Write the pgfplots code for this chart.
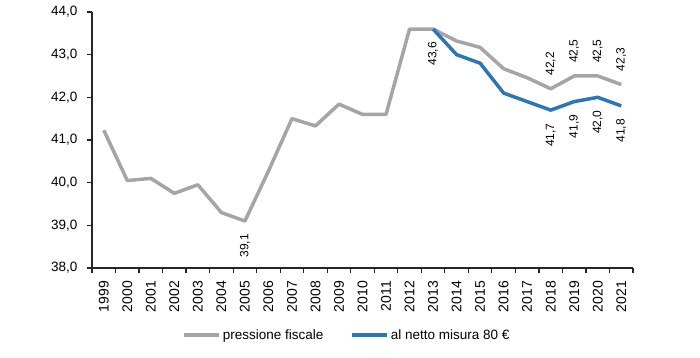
\documentclass[border=0pt]{standalone}
\usepackage{pgfplots}
\pgfplotsset{compat=1.18}
\usepackage{fontspec}
\setmainfont{Liberation Sans}
\definecolor{pgray}{RGB}{165,165,165}
\definecolor{pblue}{RGB}{46,117,182}
\begin{document}
\begin{tikzpicture}[x=1pt,y=1pt]
\useasboundingbox (0,0) rectangle (700,358);
\begin{axis}[
  at={(92pt,90pt)}, anchor=south west,
  scale only axis, width=541pt, height=256pt,
  xmin=-0.5, xmax=22.5, ymin=38, ymax=44,
  axis x line*=bottom, axis y line*=left,
  axis line style={line width=1.2pt, black!85},
  xtick={0,...,22},
  xticklabels={1999,2000,2001,2002,2003,2004,2005,2006,2007,2008,2009,2010,2011,2012,2013,2014,2015,2016,2017,2018,2019,2020,2021},
  major x tick style={draw=none},
  minor xtick={-0.5,0.5,...,22.5},
  minor x tick style={line width=1.2pt, black!85},
  minor tick length=5pt,
  ytick={38,39,...,44},
  major y tick style={line width=1.2pt, black!85},
  major tick length=5pt,
  tick align=outside,
  xticklabel style={rotate=90, anchor=east, font=\fontsize{14}{16}\selectfont, inner sep=2pt, xshift=-6pt},
  yticklabel style={font=\fontsize{13.5}{15}\selectfont, xshift=-6pt},
  /pgf/number format/assume math mode=true,
  /pgf/number format/.cd, use comma, fixed, fixed zerofill, precision=1, 1000 sep={},
  /pgfplots/.cd,
  legend style={at={(0.471,-0.262)}, anchor=center, draw=none, fill=none,
    legend columns=2, font=\fontsize{13.5}{15}\selectfont,
    /tikz/every even column/.append style={column sep=25pt}},
  legend image code/.code={\draw[#1, line width=3.5pt] (0pt,0pt) -- (35pt,0pt);},
  clip=false,
]
\addplot[pgray, line width=3.5pt, line join=round] coordinates {
(0,41.23) (1,40.05) (2,40.1) (3,39.75) (4,39.95) (5,39.3) (6,39.1) (7,40.27) (8,41.5) (9,41.33) (10,41.84) (11,41.6) (12,41.6) (13,43.6) (14,43.6) (15,43.32) (16,43.17) (17,42.67) (18,42.46) (19,42.2) (20,42.5) (21,42.5) (22,42.3)};
\addlegendentry{pressione fiscale}
\addplot[pblue, line width=3.5pt, line join=round] coordinates {
(14,43.6) (15,43.0) (16,42.8) (17,42.1) (18,41.9) (19,41.7) (20,41.9) (21,42.0) (22,41.8)};
\addlegendentry{al netto misura 80 €}
% labels
\addplot[draw=none, forget plot, nodes near coords, every node near coord/.append style={rotate=90, anchor=east, inner xsep=13pt, font=\fontsize{12}{14}\selectfont, /pgf/number format/assume math mode=true, /pgf/number format/use comma, /pgf/number format/fixed, /pgf/number format/fixed zerofill, /pgf/number format/precision=1}] coordinates {(6,39.1) (14,43.6) (19,41.7) (20,41.9) (21,42.0) (22,41.8)};
\addplot[draw=none, forget plot, nodes near coords, every node near coord/.append style={rotate=90, anchor=west, inner xsep=13pt, font=\fontsize{12}{14}\selectfont, /pgf/number format/assume math mode=true, /pgf/number format/use comma, /pgf/number format/fixed, /pgf/number format/fixed zerofill, /pgf/number format/precision=1}] coordinates {(19,42.2) (20,42.5) (21,42.5) (22,42.3)};
\end{axis}
\end{tikzpicture}
\end{document}
